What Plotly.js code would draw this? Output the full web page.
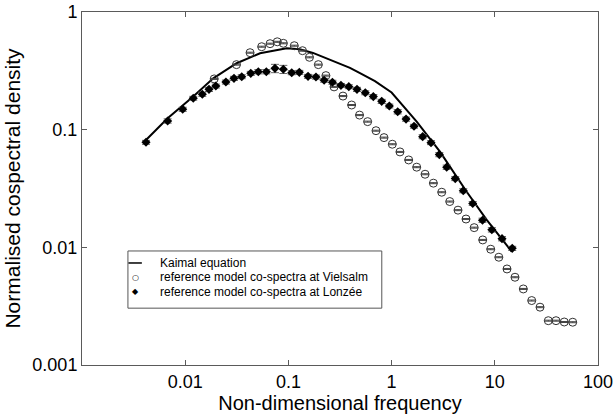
<!DOCTYPE html>
<html>
<head>
<meta charset="utf-8">
<script src="https://cdn.plot.ly/plotly-3.0.1.min.js"></script>
<style>
html,body{margin:0;padding:0;background:#fff;}
#chart{width:614px;height:414px;}
</style>
</head>
<body>
<div id="chart"></div>
<script>
// Kaimal equation (solid line)
var kaimalX = [0.00417, 0.00676, 0.01197, 0.0187, 0.0315, 0.0531, 0.0964, 0.129, 0.173, 0.235, 0.395, 0.494, 0.690, 1.0, 1.75, 2.94, 5.34, 8.35, 14.6];
var kaimalY = [0.0817, 0.125, 0.191, 0.273, 0.367, 0.446, 0.492, 0.482, 0.449, 0.404, 0.335, 0.302, 0.258, 0.207, 0.117, 0.065, 0.0297, 0.0171, 0.00919];

// reference model co-spectra at Vielsalm (open circles)
var vielsalmX = [0.0191, 0.0314, 0.0425, 0.0551, 0.0664, 0.0780, 0.0893, 0.114, 0.137, 0.160, 0.195, 0.231, 0.277, 0.338, 0.410, 0.489, 0.586, 0.706, 0.844, 1.016, 1.205, 1.464, 1.751, 2.11, 2.54, 3.06, 3.66, 4.40, 5.26, 6.31, 7.64, 9.13, 10.94, 13.13, 15.69, 18.89, 22.79, 27.43, 32.99, 39.2, 47.1, 56.9];
var vielsalmY = [0.270, 0.357, 0.451, 0.507, 0.538, 0.558, 0.542, 0.517, 0.469, 0.412, 0.357, 0.288, 0.231, 0.193, 0.162, 0.133, 0.117, 0.098, 0.0856, 0.0752, 0.0647, 0.0553, 0.0480, 0.0418, 0.0351, 0.0294, 0.0245, 0.0207, 0.0174, 0.0147, 0.01156, 0.00964, 0.00824, 0.00655, 0.00557, 0.00443, 0.00353, 0.00310, 0.00238, 0.00238, 0.00232, 0.00231];

// reference model co-spectra at Lonzée (filled diamonds)
var lonzeeX = [0.00417, 0.00676, 0.00946, 0.01197, 0.01465, 0.0170, 0.0198, 0.0248, 0.0297, 0.0353, 0.0432, 0.0511, 0.0611, 0.0741, 0.0893, 0.1077, 0.1276, 0.155, 0.185, 0.222, 0.267, 0.323, 0.385, 0.462, 0.556, 0.665, 0.802, 0.951, 1.146, 1.380, 1.649, 2.00, 2.41, 2.90, 3.42, 4.14, 4.95, 6.11, 7.60, 9.36, 11.75, 14.75];
var lonzeeY = [0.0781, 0.1186, 0.149, 0.185, 0.200, 0.220, 0.235, 0.254, 0.273, 0.282, 0.301, 0.311, 0.311, 0.332, 0.326, 0.305, 0.307, 0.284, 0.280, 0.263, 0.253, 0.238, 0.232, 0.220, 0.206, 0.191, 0.174, 0.159, 0.142, 0.123, 0.107, 0.0872, 0.0776, 0.0614, 0.0480, 0.0384, 0.0303, 0.0236, 0.0170, 0.0141, 0.01185, 0.0098];
var lonzeeErr = [0.003, 0.005, 0.006, 0.007, 0.008, 0.009, 0.009, 0.010, 0.011, 0.011, 0.012, 0.013, 0.013, 0.027, 0.026, 0.012, 0.012, 0.011, 0.011, 0.010, 0.010, 0.009, 0.009, 0.009, 0.008, 0.008, 0.007, 0.006, 0.006, 0.005, 0.004, 0.0035, 0.003, 0.0025, 0.002, 0.0015, 0.0012, 0.0009, 0.0007, 0.0006, 0.0005, 0.0004];

var xTickVals = [0.01, 0.1, 1, 10, 100];
var xTickText = ['0.01', '0.1', '1', '10', '100'];
var yTickVals = [0.001, 0.01, 0.1, 1];
var yTickText = ['0.001', '0.01', '0.1', '1'];

var legendLabels = ['Kaimal equation', 'reference model co-spectra at Vielsalm', 'reference model co-spectra at Lonzée'];

var FONT = 'Liberation Sans, Arial, Helvetica, sans-serif';
var AX = '#5a5a5a';

var traces = [
  {
    x: kaimalX, y: kaimalY, type: 'scatter', mode: 'lines',
    line: {color: '#000', width: 2}, name: legendLabels[0], hoverinfo: 'skip'
  },
  {
    x: vielsalmX, y: vielsalmY, type: 'scatter', mode: 'markers', name: legendLabels[1],
    marker: {symbol: 'circle-open', size: 8, color: '#333', line: {width: 1, color: '#333'}},
    error_y: {type: 'percent', value: 1, width: 4, thickness: 1, color: '#444'}
  },
  {
    x: lonzeeX, y: lonzeeY, type: 'scatter', mode: 'markers', name: legendLabels[2],
    marker: {symbol: 'diamond', size: 7, color: '#000', line: {width: 0}},
    error_y: {type: 'data', array: lonzeeErr, width: 4, thickness: 1, color: '#666'}
  }
];

// legend box geometry (paper coordinates)
var lgX0 = 0.089, lgX1 = 0.581, lgY0 = 0.161, lgY1 = 0.323;
var rowY = [0.289, 0.248, 0.207];
var symX = 0.103, txtX = 0.147;

var annotations = [];
var symbols = ['', '○', '◆'];
for (var i = 0; i < 3; i++) {
  annotations.push({
    xref: 'paper', yref: 'paper', x: txtX, y: rowY[i], xanchor: 'left', yanchor: 'middle',
    text: legendLabels[i], showarrow: false, font: {family: FONT, size: 12, color: '#000'}
  });
  if (symbols[i]) {
    annotations.push({
      xref: 'paper', yref: 'paper', x: symX, y: rowY[i], xanchor: 'center', yanchor: 'middle',
      text: symbols[i], showarrow: false, font: {family: 'DejaVu Sans, sans-serif', size: 8, color: '#000'}
    });
  }
}

var shapes = [
  {type: 'rect', xref: 'paper', yref: 'paper', x0: lgX0, x1: lgX1, y0: lgY0, y1: lgY1,
   line: {color: '#555', width: 1}, fillcolor: '#fff', layer: 'above'},
  {type: 'line', xref: 'paper', yref: 'paper', x0: symX - 0.013, x1: symX + 0.013, y0: rowY[0], y1: rowY[0],
   line: {color: '#000', width: 1.5}, layer: 'above'}
];

var layout = {
  width: 614, height: 414,
  margin: {l: 82, r: 16, t: 12, b: 49, pad: 0},
  paper_bgcolor: '#fff', plot_bgcolor: '#fff',
  showlegend: false,
  font: {family: FONT, color: '#000'},
  xaxis: {
    type: 'log', range: [-3, 2], tickvals: xTickVals, ticktext: xTickText,
    ticks: 'inside', ticklen: 5, tickwidth: 1, tickcolor: AX,
    showline: true, linecolor: AX, linewidth: 1, mirror: 'ticks',
    showgrid: false, zeroline: false,
    tickfont: {family: FONT, size: 18, color: '#000'},
    title: {text: 'Non-dimensional frequency', font: {family: FONT, size: 20, color: '#000'}, standoff: 2}
  },
  yaxis: {
    type: 'log', range: [-3, 0], tickvals: yTickVals, ticktext: yTickText,
    ticks: 'inside', ticklen: 5, tickwidth: 1, tickcolor: AX,
    showline: true, linecolor: AX, linewidth: 1, mirror: 'ticks',
    showgrid: false, zeroline: false,
    tickfont: {family: FONT, size: 18, color: '#000'},
    title: {text: 'Normalised cospectral density', font: {family: FONT, size: 21, color: '#000'}, standoff: 6}
  },
  shapes: shapes,
  annotations: annotations
};

Plotly.newPlot('chart', traces, layout, {staticPlot: true, displayModeBar: false});
</script>
</body>
</html>
